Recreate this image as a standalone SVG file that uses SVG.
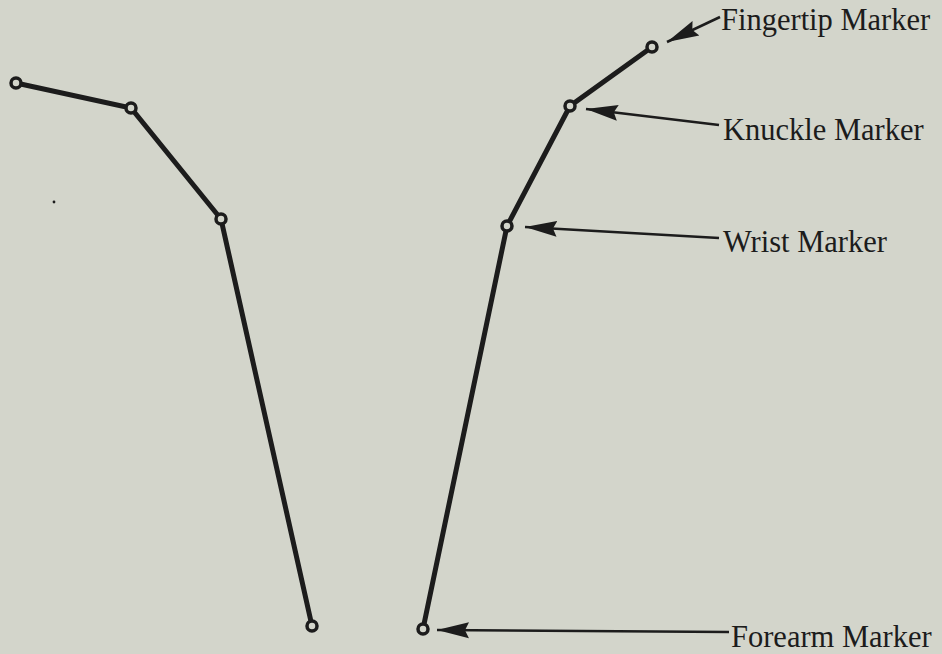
<svg xmlns="http://www.w3.org/2000/svg" width="942" height="654" viewBox="0 0 942 654">
<style>
.bone{stroke:#1c1c1c;stroke-width:5;fill:none;stroke-linecap:round}
.joint{fill:#d3d5cb;stroke:#1c1c1c;stroke-width:3.5}
.lead{stroke:#1c1c1c;stroke-width:2.5;fill:none}
.lbl{font-family:"Liberation Serif","Times New Roman",serif;font-size:30.5px;fill:#1c1c1c}
</style>
<defs>
<marker id="ah" viewBox="0 0 32 18" refX="0" refY="9" markerWidth="32" markerHeight="18" markerUnits="userSpaceOnUse" orient="auto">
<path d="M0,9 L32,1 L28,9 L32,17 Z" fill="#1c1c1c"/>
</marker>
</defs>
<rect width="942" height="654" fill="#d3d5cb"/>
<circle cx="54" cy="202" r="1.4" fill="#1c1c1c"/>
<g id="connectors">
<polyline class="bone" points="16,83 131,108 221,219 312,626"/>
<polyline class="bone" points="652,47 570,106 507,226 423,629"/>
<line class="lead" x1="667" y1="42" x2="720" y2="17" marker-start="url(#ah)"/>
<line class="lead" x1="586" y1="109" x2="719" y2="125" marker-start="url(#ah)"/>
<line class="lead" x1="525" y1="227" x2="719" y2="238" marker-start="url(#ah)"/>
<line class="lead" x1="437" y1="630" x2="729" y2="632" marker-start="url(#ah)"/>
</g>
<g id="left-hand">
<circle class="joint" cx="16" cy="83" r="5"/>
<circle class="joint" cx="131" cy="108" r="5"/>
<circle class="joint" cx="221" cy="219" r="5"/>
<circle class="joint" cx="312" cy="626" r="5"/>
</g>
<g id="fingertip"><circle class="joint" cx="652" cy="47" r="5"/><text class="lbl" x="721" y="30">Fingertip Marker</text></g>
<g id="knuckle"><circle class="joint" cx="570" cy="106" r="5"/><text class="lbl" x="723" y="140">Knuckle Marker</text></g>
<g id="wrist"><circle class="joint" cx="507" cy="226" r="5"/><text class="lbl" x="723" y="252">Wrist Marker</text></g>
<g id="forearm"><circle class="joint" cx="423" cy="629" r="5"/><text class="lbl" x="731" y="647">Forearm Marker</text></g>
</svg>
